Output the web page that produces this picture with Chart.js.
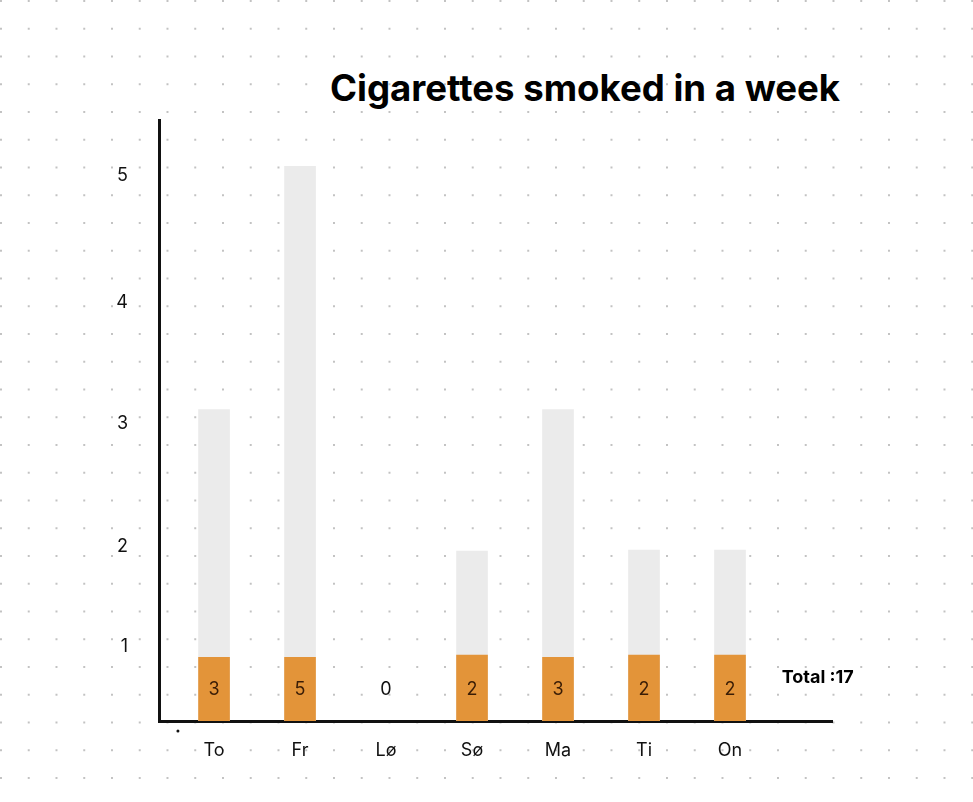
<!DOCTYPE html>
<html lang="en">
<head>
    <meta charset="UTF-8">
    <title>Cigarettes smoked in a week</title>
    <script src="https://cdn.jsdelivr.net/npm/chart.js@4"></script>
    <style>
        html, body {
            margin: 0;
            padding: 0;
        }
        body {
            width: 973px;
            height: 802px;
            overflow: hidden;
            background-color: #fff;
            background-image: radial-gradient(circle, #c2c2c2 1.1px, rgba(255,255,255,0) 1.5px);
            background-size: 27.75px 27.75px;
            background-position: -12.9px -12.9px;
            position: relative;
            font-family: Inter, "Liberation Sans", sans-serif;
        }
        #title {
            position: absolute;
            left: 330px;
            top: 66px;
            font-size: 36.6px;
            font-weight: 700;
            color: #000;
            white-space: nowrap;
        }
        #wrap {
            position: absolute;
            left: 0;
            top: 0;
            width: 973px;
            height: 802px;
        }
    </style>
</head>
<body>
    <div id="title">Cigarettes smoked in a week</div>
    <div id="wrap"><canvas id="chart"></canvas></div>

    <script>
        // days of the week (Norwegian, starting Thursday)
        const days = ['To', 'Fr', 'Lø', 'Sø', 'Ma', 'Ti', 'On'];
        // number written on each filter
        const counts = [3, 5, 0, 2, 3, 2, 2];
        // top of the grey paper, read against the y ticks
        const barTops = [3.12, 5.07, 0, 1.96, 3.12, 1.97, 1.97];
        // top of the orange filter
        const filterTops = [0.86, 0.86, 0, 0.89, 0.86, 0.89, 0.89];
        const yTicks = [1, 2, 3, 4, 5];

        // the hand drawn y axis is not evenly spaced, so map values through knots
        const knotValues = [0, 1, 2, 3, 4, 5, 5.41];
        const knotDecimals = [0, 0.1231, 0.2895, 0.4942, 0.6955, 0.9068, 1];

        function toDecimal(v) {
            for (let i = 1; i < knotValues.length; i++) {
                if (v <= knotValues[i] || i === knotValues.length - 1) {
                    const t = (v - knotValues[i - 1]) / (knotValues[i] - knotValues[i - 1]);
                    return knotDecimals[i - 1] + t * (knotDecimals[i] - knotDecimals[i - 1]);
                }
            }
            return 0;
        }
        function fromDecimal(d) {
            for (let i = 1; i < knotDecimals.length; i++) {
                if (d <= knotDecimals[i] || i === knotDecimals.length - 1) {
                    const t = (d - knotDecimals[i - 1]) / (knotDecimals[i] - knotDecimals[i - 1]);
                    return knotValues[i - 1] + t * (knotValues[i] - knotValues[i - 1]);
                }
            }
            return 0;
        }

        class KnotScale extends Chart.LinearScale {
            getPixelForValue(value) {
                if (value === null || isNaN(value)) return NaN;
                return this.getPixelForDecimal(toDecimal(value));
            }
            getValueForPixel(pixel) {
                return fromDecimal(this.getDecimalForPixel(pixel));
            }
        }
        KnotScale.id = 'knots';
        KnotScale.defaults = Chart.LinearScale.defaults;
        Chart.register(KnotScale);

        // numbers on the filters and the total
        const labelPlugin = {
            id: 'filterLabels',
            afterDatasetsDraw(chart) {
                const ctx = chart.ctx;
                const x = chart.scales.x;
                const y = chart.scales.y;
                ctx.save();
                ctx.textAlign = 'center';
                ctx.textBaseline = 'middle';
                ctx.font = '18px Inter, "Liberation Sans", sans-serif';
                counts.forEach((c, i) => {
                    ctx.fillStyle = c > 0 ? '#3a1d06' : '#111';
                    ctx.fillText(String(c), x.getPixelForValue(i), y.getPixelForValue(0.42));
                });
                const total = counts.reduce((a, b) => a + b, 0);
                ctx.fillStyle = '#000';
                ctx.font = 'bold 18px Inter, "Liberation Sans", sans-serif';
                ctx.fillText('Total :' + total, x.getPixelForValue(7.02), y.getPixelForValue(0.58));
                // stray pen dot under the axis
                ctx.beginPath();
                ctx.arc(x.getPixelForValue(-0.42), y.getPixelForValue(0) + 10, 1.5, 0, Math.PI * 2);
                ctx.fillStyle = '#111';
                ctx.fill();
                ctx.restore();
            }
        };

        const ctx = document.getElementById('chart').getContext('2d');
        const chart = new Chart(ctx, {
            type: 'bar',
            data: {
                datasets: [{
                    label: 'Filter',
                    data: filterTops.map((v, i) => ({ x: i, y: v > 0 ? v : null })),
                    backgroundColor: '#e39439',
                    barThickness: 31,
                    grouped: false
                }, {
                    label: 'Cigarettes',
                    data: barTops.map((v, i) => ({ x: i, y: v > 0 ? v : null })),
                    backgroundColor: '#ebebeb',
                    barThickness: 31,
                    grouped: false
                }]
            },
            options: {
                responsive: true,
                maintainAspectRatio: false,
                animation: false,
                layout: {
                    padding: { left: 0, top: 120, right: 141, bottom: 0 }
                },
                plugins: {
                    legend: { display: false },
                    tooltip: { enabled: false },
                    title: { display: false }
                },
                scales: {
                    x: {
                        type: 'linear',
                        offset: false,
                        min: -0.64,
                        max: 7.186,
                        grid: { display: false, drawTicks: false },
                        border: { display: true, color: '#111', width: 3 },
                        afterBuildTicks: (scale) => {
                            scale.ticks = days.map((d, i) => ({ value: i }));
                        },
                        afterFit: (scale) => { scale.height = 81; },
                        ticks: {
                            autoSkip: false,
                            maxRotation: 0,
                            padding: 19,
                            color: '#111',
                            font: { family: 'Inter, "Liberation Sans", sans-serif', size: 18 },
                            callback: (v) => days[v] || ''
                        }
                    },
                    y: {
                        type: 'knots',
                        min: 0,
                        max: 5.41,
                        grid: { display: false, drawTicks: false },
                        border: { display: true, color: '#111', width: 3 },
                        afterBuildTicks: (scale) => {
                            scale.ticks = yTicks.map(v => ({ value: v }));
                        },
                        afterFit: (scale) => { scale.width = 159; },
                        ticks: {
                            padding: 31,
                            color: '#111',
                            font: { family: 'Inter, "Liberation Sans", sans-serif', size: 18 },
                            callback: (v) => String(v)
                        }
                    }
                }
            },
            plugins: [labelPlugin]
        });
    </script>
</body>
</html>
